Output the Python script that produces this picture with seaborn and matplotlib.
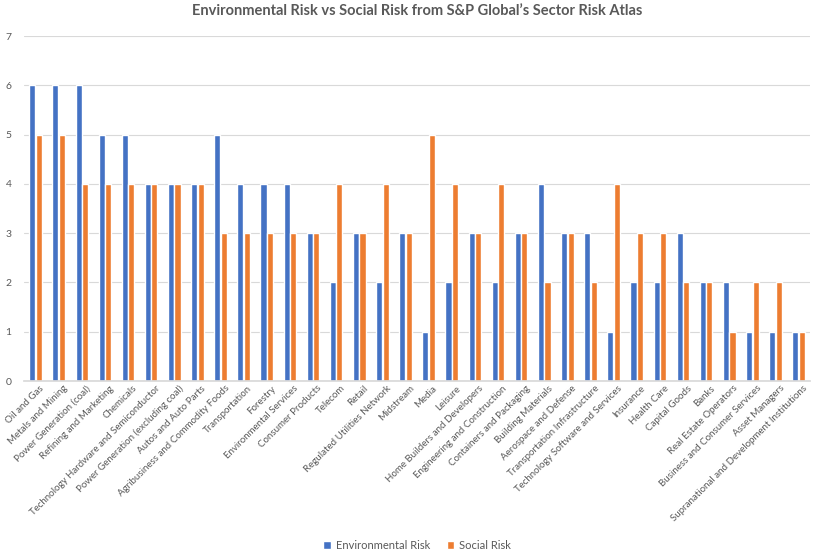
import matplotlib
matplotlib.use("Agg")
import matplotlib.pyplot as plt
import matplotlib.transforms as mtransforms
import seaborn as sns
import pandas as pd

categories = [
    "Oil and Gas", "Metals and Mining", "Power Generation (coal)", "Refining and Marketing",
    "Chemicals", "Technology Hardware and Semiconductor", "Power Generation (excluding coal)",
    "Autos and Auto Parts", "Agribusiness and Commodity Foods", "Transportation", "Forestry",
    "Environmental Services", "Consumer Products", "Telecom", "Retail",
    "Regulated Utilities Network", "Midstream", "Media", "Leisure",
    "Home Builders and Developers", "Engineering and Construction", "Containers and Packaging",
    "Building Materials", "Aerospace and Defense", "Transportation Infrastructure",
    "Technology Software and Services", "Insurance", "Health Care", "Capital Goods", "Banks",
    "Real Estate Operators", "Business and Consumer Services", "Asset Managers",
    "Supranational and Development Institutions",
]
environmental = [6, 6, 6, 5, 5, 4, 4, 4, 5, 4, 4, 4, 3, 2, 3, 2, 3, 1, 2, 3, 2, 3, 4, 3, 3, 1, 2, 2, 3, 2, 2, 1, 1, 1]
social = [5, 5, 4, 4, 4, 4, 4, 4, 3, 3, 3, 3, 3, 4, 3, 4, 3, 5, 4, 3, 4, 3, 2, 3, 2, 4, 3, 3, 2, 2, 1, 2, 2, 1]
series_names = ["Environmental Risk", "Social Risk"]

df = pd.DataFrame({
    "Sector": categories * 2,
    "Risk": environmental + social,
    "Type": [series_names[0]] * len(categories) + [series_names[1]] * len(categories),
})

sns.set_theme(style="white")
plt.rcParams["font.family"] = ["Lato", "DejaVu Sans"]

fig = plt.figure(figsize=(8.13, 5.55), dpi=100)
ax = fig.add_axes([0.0295, 0.3135, 0.967, 0.6215])

sns.barplot(data=df, x="Sector", y="Risk", hue="Type", hue_order=series_names,
            palette=["#4472C4", "#ED7D31"], saturation=1, width=0.56, gap=0.06,
            ax=ax, legend=True)

ax.set_ylim(0, 7)
ax.set_yticks(range(0, 8))
ax.set_xlim(-0.5, len(categories) - 0.5)
ax.yaxis.grid(True, color="#D9D9D9", linewidth=0.8)
ax.set_axisbelow(True)
for s in ["top", "right", "left"]:
    ax.spines[s].set_visible(False)
ax.spines["bottom"].set_color("#D9D9D9")
ax.set_xlabel("")
ax.set_ylabel("")
ax.tick_params(axis="y", length=0, colors="#595959", labelsize=7.5, pad=9)
ax.tick_params(axis="x", length=0, colors="#595959", labelsize=7, pad=2)
offset = mtransforms.ScaledTranslation(4 / 100, 0, fig.dpi_scale_trans)
for lbl in ax.get_xticklabels():
    lbl.set_rotation(45)
    lbl.set_ha("right")
    lbl.set_rotation_mode("anchor")
    lbl.set_transform(lbl.get_transform() + offset)

ax.set_title("Environmental Risk vs Social Risk from S&P Global\u2019s Sector Risk Atlas",
             color="#595959", fontsize=10.5, fontweight="bold", pad=15)

handles, labels = ax.get_legend_handles_labels()
ax.legend_.remove()
fig.legend(handles, labels, loc="center", bbox_to_anchor=(0.513, 0.018), ncol=2,
           frameon=False, fontsize=8, handlelength=0.7, handleheight=0.7,
           columnspacing=1.5, handletextpad=0.4, labelcolor="#595959")

fig.savefig("out.png", dpi=100)
